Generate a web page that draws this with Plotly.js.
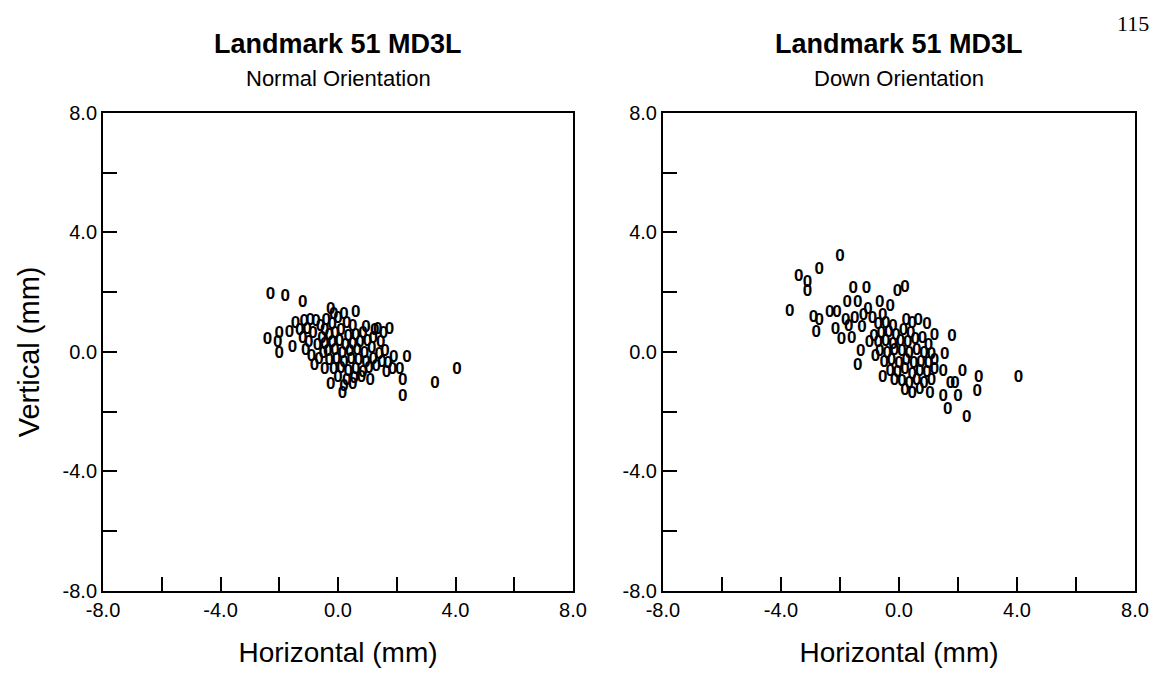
<!DOCTYPE html>
<html>
<head>
<meta charset="utf-8">
<script src="https://cdn.plot.ly/plotly-3.0.1.min.js"></script>
<style>
  html, body { margin: 0; padding: 0; background: #fff; }
  #chart { width: 1159px; height: 688px; }
</style>
</head>
<body>
<div id="chart"></div>
<script>
// Landmark 51 (MD3L) displacement, normal orientation
const normalX = [
  -2.3, -1.8, -1.2, -0.25, 0.2, 0.6, -1.45, -2.4, -2.0, -1.65, -2.05, -2.0, -1.55,
  -0.8, 2.35, 2.1, -0.25, 0.15, 1.1, 1.65, 2.2, 2.2, 3.3, 4.05, 1.35, 1.75,
  -1.15, -0.95, -0.75, -1.05, -0.85, -1.2, -1.0, -0.6, -0.45, -1.1, -0.7, -0.9, -0.55, -1.3, -0.65,
  -0.4, -0.2, 0.0, 0.3, 0.5, -0.3, -0.1, 0.1, 0.35, 0.6, 0.85, -0.45, -0.2, 0.05, 0.25, 0.5,
  0.75, 1.0, 1.2, -0.35, -0.1, 0.15, 0.4, 0.65, 0.9, 1.15, -0.3, -0.05, 0.2, 0.45, 0.7,
  0.95, 1.2, 1.4, -0.15, 0.1, 0.35, 0.6, 0.85, 1.05, 1.3, 0.0, 0.3, 0.55, 0.8, 1.5,
  1.6, 1.45, 1.7, 1.9, 0.2, 0.5, -0.45, -0.5, 1.25, 1.55, 1.85, 0.95, -0.15
];
const normalY = [
  1.9, 1.85, 1.65, 1.4, 1.25, 1.3, 0.95, 0.4, 0.6, 0.65, 0.3, -0.05, 0.15,
  -0.45, -0.2, -0.6, -1.1, -1.4, -0.95, -0.7, -0.95, -1.5, -1.05, -0.6, 0.75, 0.75,
  1.0, 1.05, 1.0, 0.75, 0.6, 0.45, 0.3, 0.85, 0.7, 0.05, 0.2, -0.15, 0.45, 0.7, -0.25,
  1.05, 0.9, 1.1, 0.95, 0.85, 0.55, 0.6, 0.7, 0.5, 0.55, 0.6, 0.25, 0.3, 0.35, 0.2, 0.25,
  0.3, 0.35, 0.45, 0.0, 0.05, -0.05, 0.0, 0.05, -0.05, 0.1, -0.3, -0.25, -0.35, -0.25, -0.3,
  -0.35, -0.25, -0.1, -0.6, -0.55, -0.65, -0.6, -0.7, -0.55, -0.5, -0.85, -0.95, -0.9, -0.85, -0.35,
  0.0, 0.3, -0.4, -0.2, -1.15, -1.1, -0.6, -0.05, 0.7, 0.6, -0.6, 0.8, 1.25
];

// Landmark 51 (MD3L) displacement, down orientation
const downX = [
  -2.0, -2.7, -3.4, -3.1, -3.1, -3.7, -1.55, -1.1, -0.05, 0.2, -1.75, -1.4, -0.65, -0.3,
  -1.05, -2.9, -2.7, -2.35, -2.1, -2.8, -2.15, -1.95, -1.7, -1.8, -1.0, -1.3, -1.4, -1.5,
  -1.25, -1.6, -1.2,
  0.25, 0.65, 0.95, 1.8, 1.55, 2.15, 1.5, 2.7, 1.75, 2.0, 2.65, 1.5, 1.65, 2.3, 4.05,
  0.45, 1.05, -0.15, -0.55, 1.9,
  -0.7, -0.45, -0.2, -0.6, -0.35, -0.1, 0.15, 0.4, -0.7, -0.45, -0.2, 0.05, 0.3, 0.55,
  0.8, 1.0, -0.65, -0.4, -0.15, 0.1, 0.35, 0.6, 0.85, 1.1, -0.5, -0.25, 0.0, 0.25,
  0.5, 0.75, 1.0, 1.2, -0.3, -0.05, 0.2, 0.45, 0.7, 0.95, 1.2, 0.1, 0.35, 0.6,
  0.85, 1.1, 0.2, 0.7, -0.85, -0.9, -0.55, 1.2, -0.8, 0.45
];
const downY = [
  3.2, 2.75, 2.5, 2.3, 2.0, 1.35, 2.1, 2.1, 2.0, 2.15, 1.65, 1.65, 1.65, 1.5,
  1.4, 1.15, 1.05, 1.3, 1.3, 0.65, 0.75, 0.4, 0.85, 1.05, 0.3, 0.0, -0.45, 1.1,
  0.8, 0.45, 1.2,
  1.05, 1.05, 0.9, 0.5, -0.1, -0.65, -0.65, -0.85, -1.05, -1.5, -1.35, -1.5, -1.95, -2.2, -0.85,
  -1.4, -1.4, -0.95, -0.85, -1.05,
  0.9, 0.95, 0.85, 0.6, 0.65, 0.55, 0.7, 0.6, 0.3, 0.35, 0.25, 0.35, 0.3, 0.4,
  0.45, 0.2, 0.0, -0.05, 0.05, 0.0, -0.05, 0.05, -0.05, -0.1, -0.35, -0.3, -0.4, -0.3,
  -0.4, -0.35, -0.4, -0.3, -0.65, -0.7, -0.6, -0.75, -0.65, -0.7, -0.6, -1.0, -1.05, -0.95,
  -1.05, -0.95, -1.3, -1.25, 0.5, 1.1, 1.2, 0.55, -0.15, 0.95
];

const tickVals = [-8, -6, -4, -2, 0, 2, 4, 6, 8];
const tickText = ['-8.0', '', '-4.0', '', '0.0', '', '4.0', '', '8.0'];

const FONT = 'Liberation Sans, Arial, Helvetica, sans-serif';

function pointTrace(xs, ys, xa, ya) {
  return {
    type: 'scatter',
    mode: 'text',
    x: xs,
    y: ys,
    xaxis: xa,
    yaxis: ya,
    text: xs.map(() => '0'),
    textposition: 'middle center',
    textfont: { family: FONT, size: 17, color: '#000', weight: 700 },
    hoverinfo: 'x+y',
    showlegend: false
  };
}

function axisStyle(extra) {
  return Object.assign({
    range: [-8, 8],
    tickmode: 'array',
    tickvals: tickVals,
    ticktext: tickText,
    ticks: 'inside',
    ticklen: 14,
    tickwidth: 2,
    tickcolor: '#000',
    showline: true,
    mirror: true,
    linewidth: 2,
    linecolor: '#000',
    showgrid: false,
    zeroline: false,
    tickfont: { family: FONT, size: 20, color: '#000' },
    fixedrange: true
  }, extra);
}

const xTitle = { text: 'Horizontal (mm)', font: { family: FONT, size: 28, color: '#000' }, standoff: 22 };

const layout = {
  width: 1159,
  height: 688,
  margin: { l: 0, r: 0, t: 0, b: 0 },
  paper_bgcolor: '#fff',
  plot_bgcolor: '#fff',
  xaxis: axisStyle({ domain: [0.0889, 0.4944], anchor: 'y', title: xTitle }),
  yaxis: axisStyle({
    domain: [0.141, 0.836], anchor: 'x',
    title: { text: 'Vertical (mm)', font: { family: FONT, size: 29, color: '#000' }, standoff: 14 }
  }),
  xaxis2: axisStyle({ domain: [0.572, 0.9793], anchor: 'y2', title: xTitle }),
  yaxis2: axisStyle({ domain: [0.141, 0.836], anchor: 'x2' }),
  annotations: [
    { text: '<b>Landmark 51 MD3L</b>', xref: 'paper', yref: 'paper', x: 0.2917, y: 1 - 44 / 688,
      showarrow: false, xanchor: 'center', yanchor: 'middle', font: { family: FONT, size: 27, color: '#000' } },
    { text: 'Normal Orientation', xref: 'paper', yref: 'paper', x: 0.2917, y: 1 - 79 / 688,
      showarrow: false, xanchor: 'center', yanchor: 'middle', font: { family: FONT, size: 22, color: '#000' } },
    { text: '<b>Landmark 51 MD3L</b>', xref: 'paper', yref: 'paper', x: 0.7757, y: 1 - 44 / 688,
      showarrow: false, xanchor: 'center', yanchor: 'middle', font: { family: FONT, size: 27, color: '#000' } },
    { text: 'Down Orientation', xref: 'paper', yref: 'paper', x: 0.7757, y: 1 - 79 / 688,
      showarrow: false, xanchor: 'center', yanchor: 'middle', font: { family: FONT, size: 22, color: '#000' } },
    { text: '115', xref: 'paper', yref: 'paper', x: 1 - 8 / 1159, y: 1 - 24 / 688,
      showarrow: false, xanchor: 'right', yanchor: 'middle',
      font: { family: 'Liberation Serif, Times New Roman, serif', size: 22, color: '#000' } }
  ]
};

Plotly.newPlot('chart', [
  pointTrace(normalX, normalY, 'x', 'y'),
  pointTrace(downX, downY, 'x2', 'y2')
], layout, { displayModeBar: false, staticPlot: true });
</script>
</body>
</html>
